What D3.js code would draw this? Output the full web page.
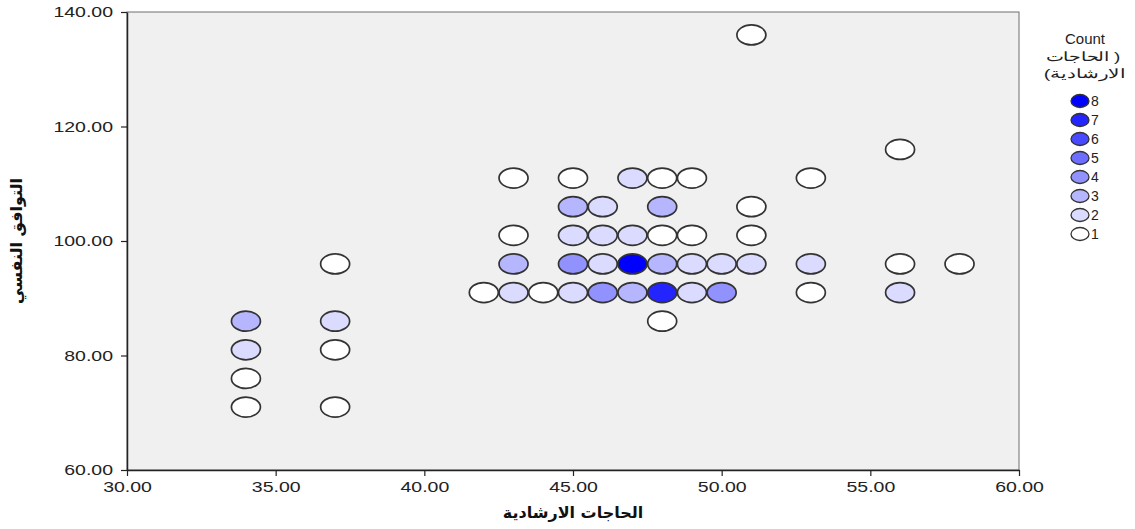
<!DOCTYPE html>
<html><head><meta charset="utf-8">
<script src="https://cdn.jsdelivr.net/npm/d3@7"></script>
<style>
body{margin:0;background:#fff;}
text{font-family:"Liberation Sans",Arial,sans-serif;}
</style></head>
<body>
<svg id="chart" width="1135" height="529"></svg>
<script>
// x = الحاجات الارشادية, y = التوافق النفسي, count = number of cases
const xVals = [51, 56, 43,45,47,48,49,53, 45,46,48,51, 43,45,46,47,48,49,51,
  37,43,45,46,47,48,49,50,51,53,56,58, 42,43,44,45,46,47,48,49,50,53,56,
  34,37,48, 34,37, 34, 34,37];
const yVals = [136, 116, 111,111,111,111,111,111, 106,106,106,106, 101,101,101,101,101,101,101,
  96,96,96,96,96,96,96,96,96,96,96,96, 91,91,91,91,91,91,91,91,91,91,91,
  86,86,86, 81,81, 76, 71,71];
const counts = [1, 1, 1,1,2,1,1,1, 3,2,3,1, 1,2,2,2,1,1,1,
  1,3,4,2,8,3,2,2,2,2,1,1, 1,2,1,2,4,3,7,2,4,1,2,
  3,2,1, 2,1, 1, 1,1];
const xTicks = [30,35,40,45,50,55,60];
const yTicks = [60,80,100,120,140];
const legendCounts = [8,7,6,5,4,3,2,1];
const xTitle = "الحاجات الارشادية";
const yTitle = "التوافق النفسي";
const legendTitle = ["Count", "\u200Eالحاجات )", "\u200E(الارشادية"];

const svg = d3.select("#chart");
const L = 127, R = 1019, T = 12, B = 470;
const x = d3.scaleLinear().domain([30,60]).range([L,R]);
const y = d3.scaleLinear().domain([60,140]).range([B,T]);
const color = d3.scaleLinear().domain([1,8]).range(["#ffffff","#0000ff"]);

svg.append("rect").attr("x",L).attr("y",T).attr("width",R-L).attr("height",B-T)
  .attr("fill","#f0f0f0").attr("stroke","#6e6e6e").attr("stroke-width",1);

const SX = 1.3;
const fmt = d3.format(".2f");
const gx = svg.append("g").attr("transform",`translate(0,${B})`)
  .call(d3.axisBottom(x).tickValues(xTicks).tickFormat(fmt).tickSize(6).tickSizeOuter(0));
const gy = svg.append("g").attr("transform",`translate(${L},0)`)
  .call(d3.axisLeft(y).tickValues(yTicks).tickFormat(fmt).tickSize(6).tickSizeOuter(0));
[gx,gy].forEach(g=>{
  g.select(".domain").attr("stroke","#222").attr("stroke-width",1.5);
  g.selectAll(".tick line").attr("stroke","#222").attr("stroke-width",1.2);
  g.selectAll(".tick text").attr("fill","#222").style("font-size","15px")
    .style("font-family","'Liberation Sans',Arial,sans-serif");
});
gx.selectAll(".tick text").attr("dy","0.95em").attr("y",7.5)
  .attr("transform",`scale(${SX},1)`);
gy.selectAll(".tick text").attr("x",-14/SX).attr("transform",`scale(${SX},1)`);

// points
const pts = xVals.map((v,i)=>({x:v,y:yVals[i],c:counts[i]}));
svg.append("g").selectAll("ellipse").data(pts).join("ellipse")
  .attr("cx",d=>x(d.x)).attr("cy",d=>y(d.y)).attr("rx",14.5).attr("ry",10)
  .attr("fill",d=>color(d.c)).attr("stroke","#333").attr("stroke-width",1.7);

// axis titles
svg.append("text").attr("x",(L+R)/2).attr("y",518).attr("text-anchor","middle")
  .style("font-size","16px").style("font-weight","bold").attr("fill","#111")
  .style("font-family","'DejaVu Sans',sans-serif").text(xTitle);
svg.append("text").attr("transform",`translate(22,${(T+B)/2}) rotate(-90)`)
  .attr("text-anchor","middle").style("font-size","16px").style("font-weight","bold").attr("fill","#111")
  .style("font-family","'DejaVu Sans',sans-serif").text(yTitle);

// legend
const lg = svg.append("g");
lg.append("text").attr("x",1085).attr("y",44).attr("text-anchor","middle")
  .style("font-size","15px").attr("fill","#222").text(legendTitle[0]);
function stretched(str, cx, cy, target){
  const t = lg.append("text").attr("x",0).attr("y",0).attr("text-anchor","middle")
    .style("font-size","13px").attr("fill","#222").text(str);
  const w = t.node().getComputedTextLength() || target;
  t.attr("transform",`translate(${cx},${cy}) scale(${target/w},1)`);
}
stretched(legendTitle[1], 1083, 61, 76);
stretched(legendTitle[2], 1085, 78, 82);

const ly = d3.scalePoint().domain(legendCounts).range([101,234]);
lg.selectAll("ellipse").data(legendCounts).join("ellipse")
  .attr("cx",1080).attr("cy",d=>ly(d)).attr("rx",9).attr("ry",6.5)
  .attr("fill",d=>color(d)).attr("stroke","#333").attr("stroke-width",1.3);
lg.selectAll("text.lab").data(legendCounts).join("text").attr("class","lab")
  .attr("x",1091).attr("y",d=>ly(d)).attr("dy","0.36em")
  .style("font-size","14px").attr("fill","#222").text(d=>d);
</script>
</body></html>
